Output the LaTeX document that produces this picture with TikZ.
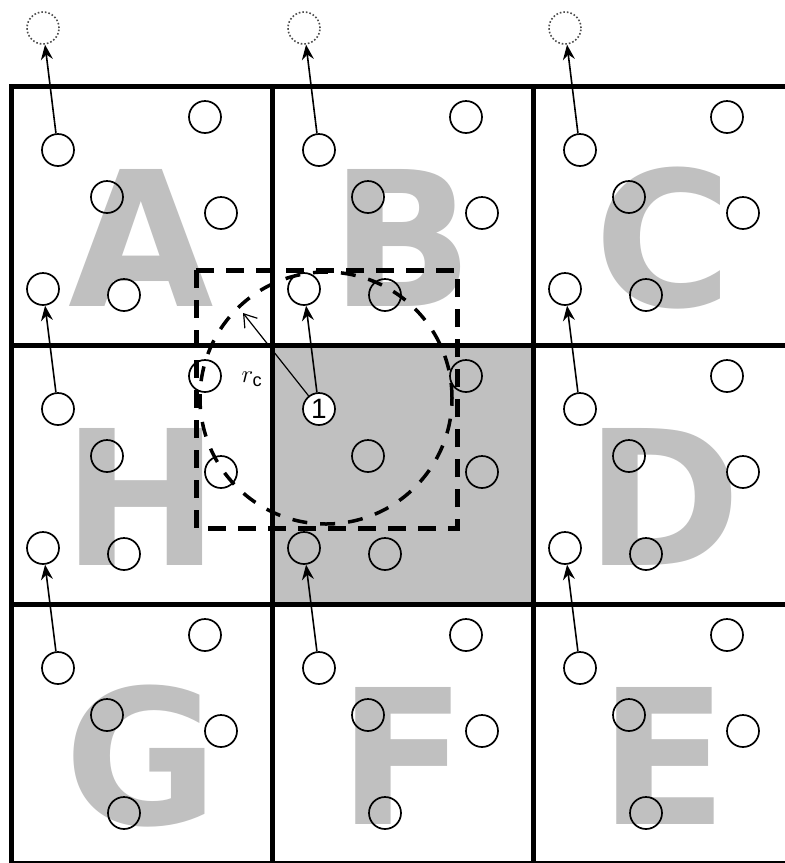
\documentclass[tikz,border=0pt]{standalone}
\usepackage{fontspec}
\setmainfont{Liberation Sans}
\newfontfamily\letterfont{DejaVu Sans}
\usetikzlibrary{arrows.meta,positioning,calc}
\definecolor{cellGray}{RGB}{192,192,192}

\tikzset{
  part/.style={circle,draw,line width=1.7pt,minimum size=32pt,inner sep=0pt},
  ghost/.style={circle,draw=black!70,dotted,line width=1.6pt,minimum size=32pt,inner sep=0pt},
  hop/.style={-{Stealth[length=15pt,width=12pt,inset=5pt]},line width=1.6pt},
  bigletter/.style={text=cellGray,font=\letterfont\fontsize{188}{188}\selectfont\bfseries,inner sep=0pt,text depth=0pt,anchor=base},
  wall/.style={line width=5pt,line cap=rect}
}

\begin{document}
\begin{tikzpicture}[x=1pt,y=-1pt]
  \clip (0,0) rectangle (785,863);
  \fill[white] (0,0) rectangle (785,863);
  % home cell
  \fill[cellGray] (272,345) rectangle (533,604);
  % image cell letters
  \foreach \c/\r/\l in {0/0/A,1/0/B,2/0/C,0/1/H,2/1/D,0/2/G,1/2/F,2/2/E}
    \node[bigletter] (L\l) at ({141.5+261*\c},{86+259*\r+220}) {\l};
  % cell walls
  \foreach \i in {0,...,3} {
    \draw[wall] ({11+261*\i},86) -- ({11+261*\i},863);
    \draw[wall] (11,{86+259*\i}) -- (795,{86+259*\i});
  }
  % particles, same pattern in every cell
  \foreach \c in {0,1,2} {
    \foreach \r in {0,1,2} {
      \begin{scope}[shift={({11+261*\c},{86+259*\r})}]
        \ifnum\c\r=11
          \node[part,fill=white,font=\fontsize{28}{28}\selectfont] (a\c\r) at (47,64) {1};
        \else
          \node[part] (a\c\r) at (47,64) {};
        \fi
        \node[part] (b\c\r) at (194,31) {};
        \node[part] (c\c\r) at (96,111) {};
        \node[part] (d\c\r) at (210,127) {};
        \ifnum\r<2
          \node[part] (e\c\r) at (32,203) {};
        \fi
        \node[part] (f\c\r) at (113,209) {};
      \end{scope}
    }
  }
  % particles leaving through the top
  \foreach \c in {0,1,2} {
    \node[ghost] (g\c) at ({43+261*\c},28) {};
    \draw[hop] (a\c0) -- (g\c);
    \draw[hop] (a\c1) -- (e\c0);
    \draw[hop] (a\c2) -- (e\c1);
  }
  % cut-off sphere round particle 1
  \coordinate (cen) at (326,398);
  \coordinate (rtip) at (243,313);
  \draw[line width=3.5pt,dash pattern=on 15pt off 13pt] (cen) circle (126pt);
  \draw[line width=5pt,dash pattern=on 18pt off 12pt] (196,270) rectangle (457,528);
  \draw[-{Straight Barb[length=12pt,width=16pt]},line width=1.2pt] (a11) -- (rtip);
  \node[font=\fontsize{26}{26}\selectfont] (rc) at (252,379) {$r_{\mathrm{c}}$};
\end{tikzpicture}
\end{document}
